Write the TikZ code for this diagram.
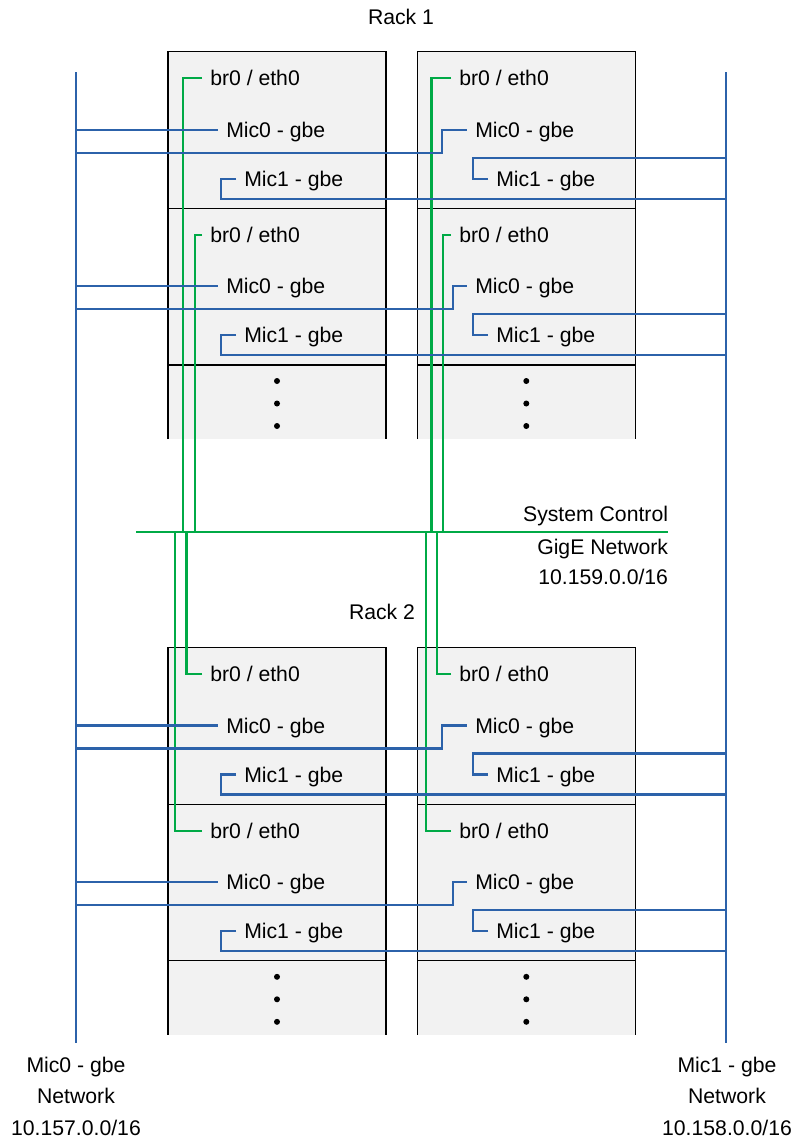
\documentclass[tikz,border=0pt]{standalone}
\usepackage{fontspec}
\setmainfont{Liberation Sans}
\definecolor{micblue}{RGB}{44,98,170}
\definecolor{ctlgreen}{RGB}{0,170,70}
\definecolor{boxgray}{RGB}{242,242,242}
\tikzset{
  txt/.style={font=\fontsize{15.9}{18}\selectfont, inner sep=0pt, text height=11.3pt, text depth=0pt},
  lbl/.style={txt, anchor=west, inner xsep=6pt},
  mic/.style={draw=micblue, line width=1.75pt},
  ctl/.style={draw=ctlgreen, line width=1.75pt},
  rackbox/.style={draw=black, line width=0.9pt}
}
\begin{document}
\begin{tikzpicture}[x=0.75pt,y=-0.75pt]
\useasboundingbox (0,0) rectangle (799,1141);

\foreach \x in {168,417.3}{
  \foreach \t in {51.7,647.5}{
    \fill[boxgray] (\x,\t) rectangle ({\x+218},{\t+387.3});
    \draw[rackbox] (\x,{\t+387.3}) -- (\x,\t) -- ({\x+218},\t) -- ({\x+218},{\t+387.3});
    \draw[rackbox] (\x,{\t+156.6}) -- ({\x+218},{\t+156.6});
    \draw[rackbox] (\x,{\t+313.3}) -- ({\x+218},{\t+313.3});
    \fill ({\x+109},{\t+329.3}) circle (3);
    \fill ({\x+109},{\t+351.8}) circle (3);
    \fill ({\x+109},{\t+374.3}) circle (3);
  }
}

\node[txt] (rack1) at (401,16.7) {Rack 1};
\node[txt] (rack2) at (382,611.7) {Rack 2};

\node[txt, anchor=east] (sc1) at (668.3,513.5) {System Control};
\node[txt, anchor=east] (sc2) at (668.3,546.5) {GigE Network};
\node[txt, anchor=east] (sc3) at (668.3,577) {10.159.0.0/16};

\node[txt] (n0a) at (76,1064.6) {Mic0 - gbe};
\node[txt] (n0b) at (76,1095.8) {Network};
\node[txt] (n0c) at (76,1127.6) {10.157.0.0/16};
\node[txt] (n1a) at (727,1064.6) {Mic1 - gbe};
\node[txt] (n1b) at (727,1095.8) {Network};
\node[txt] (n1c) at (727,1127.6) {10.158.0.0/16};

\coordinate (net0top) at (75.7,72.3);
\coordinate (net0bot) at (75.7,1043);
\coordinate (net1top) at (726,72.3);
\coordinate (net1bot) at (726,1043);
\coordinate (scleft) at (136,531.7);
\coordinate (scright) at (668.3,531.7);

\foreach \t/\n in {51.7/a, 208.3/b, 647.5/c, 804.3/d}{
  \node[lbl] (lb\n) at (202,{\t+26.5}) {br0 / eth0};
  \node[lbl] (lm0\n) at (218,{\t+78}) {Mic0 - gbe};
  \node[lbl] (lm1\n) at (236,{\t+127}) {Mic1 - gbe};
  \node[lbl] (rb\n) at (451,{\t+26.5}) {br0 / eth0};
  \node[lbl] (rm0\n) at (467,{\t+78}) {Mic0 - gbe};
  \node[lbl] (rm1\n) at (488,{\t+127}) {Mic1 - gbe};
}

\draw[ctl] (scleft) -- (scright);
\draw[ctl] (lba.west) -| (183.3,531.7);
\draw[ctl] (lbb.west) -| (195,531.7);
\draw[ctl] (rba.west) -| (431.5,531.7);
\draw[ctl] (rbb.west) -| (443.3,531.7);
\draw[ctl] (lbc.west) -| (186.5,531.7);
\draw[ctl] (lbd.west) -| (175,531.7);
\draw[ctl] (rbc.west) -| (437,531.7);
\draw[ctl] (rbd.west) -| (425.7,531.7);

\draw[mic] (net0top) -- (net0bot);
\draw[mic] (net1top) -- (net1bot);

\foreach \t/\n/\r in {51.7/a/442.3, 208.3/b/453.3, 647.5/c/442.3, 804.3/d/453.3}{
  \draw[mic] (net0top |- lm0\n.west) -- (lm0\n.west);
  \draw[mic] (75.7,{\t+101}) -| (\r,{\t+78}) -- (rm0\n.west);
  \draw[mic] (lm1\n.west) -- ++(-14.7,0) |- (726,{\t+147});
  \draw[mic] (rm1\n.west) -- ++(-14.7,0) |- (726,{\t+106});
}
\end{tikzpicture}
\end{document}
